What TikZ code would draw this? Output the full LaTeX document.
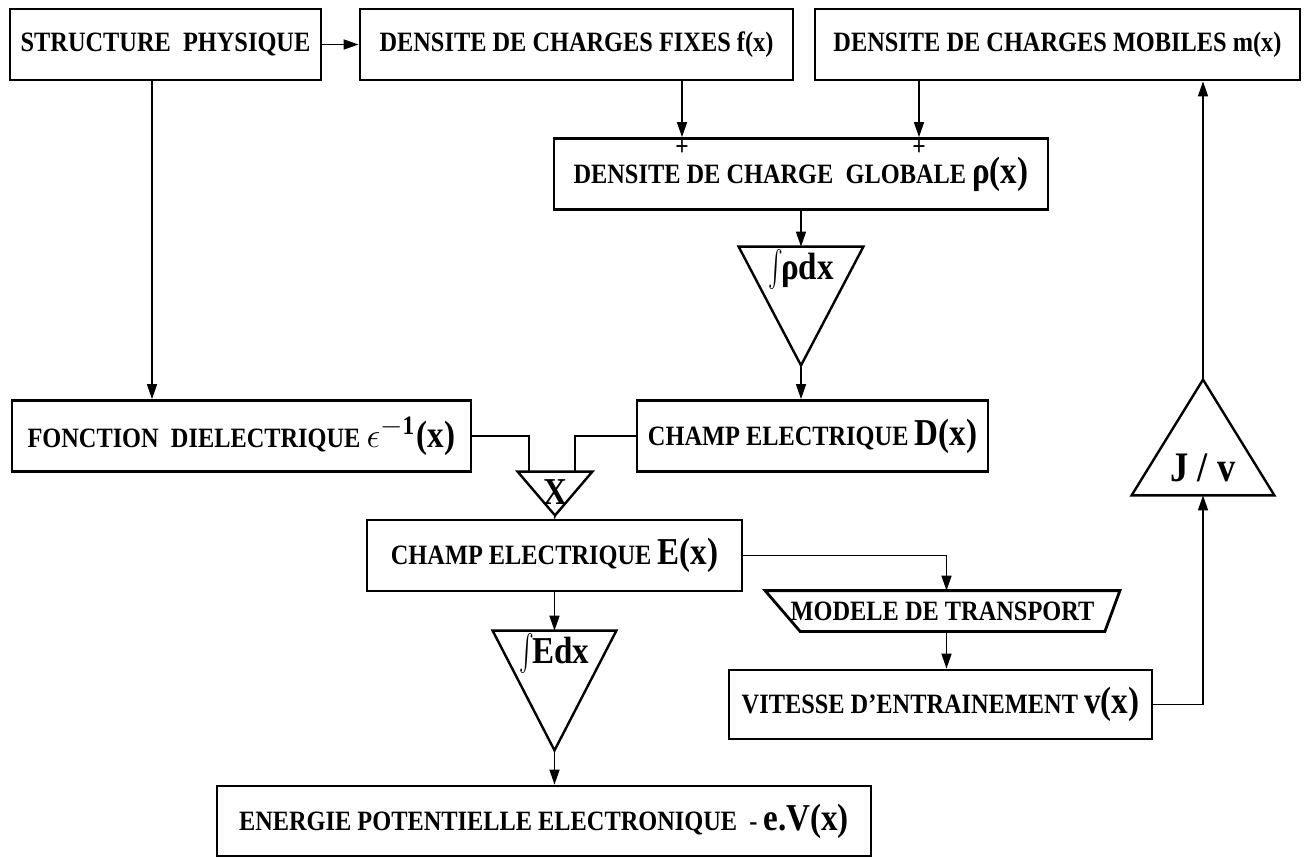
\documentclass[tikz,border=0pt]{standalone}
\usepackage{fontspec}
\setmainfont{Liberation Serif}[FakeStretch=0.87]
\usetikzlibrary{arrows.meta,shapes.geometric}

\newcommand{\grand}[1]{{\fontsize{19pt}{19pt}\selectfont #1}}
\newcommand{\integ}{\raisebox{-3pt}{\scalebox{1.1}[1.8]{$\int$}}\kern-1pt}

\tikzset{
	bloc/.style={draw,line width=1.4pt,inner sep=0pt,minimum height=35.5pt},
	lien/.style={line width=0.8pt},
	signe/.style={inner sep=0pt,font=\fontsize{13.5pt}{13.5pt}\selectfont\bfseries},
	tribas/.style={inner sep=0pt,append after command={\pgfextra{\draw[line width=1.2pt] (\tikzlastnode.north west) -- (\tikzlastnode.north east) -- (\tikzlastnode.south) -- cycle;}}},
	trihaut/.style={inner sep=0pt,append after command={\pgfextra{\draw[line width=1.2pt] (\tikzlastnode.south west) -- (\tikzlastnode.south east) -- (\tikzlastnode.north) -- cycle;}}},
	trapeze/.style={inner sep=0pt,minimum width=177pt,minimum height=20pt,append after command={\pgfextra{\draw[line width=1.4pt] (\tikzlastnode.north west) -- (\tikzlastnode.north east) -- ([xshift=-7.5pt]\tikzlastnode.south east) -- ([xshift=17.5pt]\tikzlastnode.south west) -- cycle;}}}
}

\begin{document}
\begin{tikzpicture}[x=0.5pt,y=-0.5pt,>={Triangle[length=7.5pt,width=5pt]},font=\fontsize{14pt}{16pt}\selectfont\bfseries]
			\useasboundingbox (0,0) rectangle (1307,859);
			
			\node[bloc,minimum width=155.5pt] (sp) at (165.5,44.5) {STRUCTURE\ \ PHYSIQUE};
			\node[bloc,minimum width=216.5pt] (fixes) at (576.5,44.5) {DENSITE DE CHARGES FIXES f(x)};
			\node[bloc,minimum width=242.5pt] (mobiles) at (1057.5,44.5) {DENSITE DE CHARGES MOBILES m(x)};
			
			\node[bloc,minimum width=247pt] (globale) at (801,174) {DENSITE DE CHARGE\ \ GLOBALE \grand{ρ(x)}};
			\node[signe] (plusf) at (682,147.5) {+};
			\node[signe] (plusm) at (919,147.5) {+};
			
			\node[tribas,minimum width=62pt,text height=16pt,text depth=43pt,font=\fontsize{19pt}{19pt}\selectfont\bfseries] (rho) at (801,306) {\integ ρdx};
			
			\node[bloc,minimum width=229.5pt] (eps) at (241.5,436) {FONCTION\ \ DIELECTRIQUE \grand{$\epsilon^{\mathbf{-1}}$(x)}};
			\node[bloc,minimum width=175.5pt] (champd) at (812.5,436) {CHAMP ELECTRIQUE \grand{D(x)}};
			
			\node[tribas,minimum width=37pt,text height=16pt,text depth=5.5pt,font=\fontsize{19pt}{19pt}\selectfont\bfseries] (mult) at (555,493.5) {X};
			
			\node[bloc,minimum width=187.5pt] (champe) at (554.5,555.5) {CHAMP ELECTRIQUE \grand{E(x)}};
			
			\node[tribas,minimum width=61.5pt,text height=16pt,text depth=43.5pt,font=\fontsize{19pt}{19pt}\selectfont\bfseries] (edx) at (554.5,690.5) {\integ Edx};
			\node[trapeze] (modele) at (942.5,611) {MODELE DE TRANSPORT};
			\node[bloc,minimum width=211.5pt,minimum height=34.5pt] (vitesse) at (940.5,704.5) {VITESSE D’ENTRAINEMENT \grand{v(x)}};
			
			\node[bloc,minimum width=327pt,minimum height=35pt] (energie) at (544,821) {ENERGIE POTENTIELLE ELECTRONIQUE\ \ - \grand{e.V(x)}};
			
			\node[trihaut,minimum width=71pt,text height=50.5pt,text depth=7pt,font=\fontsize{21pt}{21pt}\selectfont\bfseries] (jv) at (1203,437.5) {J / v};
			
			\draw[lien,->] (sp.east) -- (fixes.west);
			\draw[lien,->] ([xshift=-6.75pt]sp.south) -- ([xshift=-44.75pt]eps.north);
			\draw[lien,->] ([xshift=52.75pt]fixes.south) -- ([xshift=-59.5pt]globale.north);
			\draw[lien,->] ([xshift=-69.25pt]mobiles.south) -- ([xshift=59pt]globale.north);
			\draw[lien,->] (globale.south) -- (rho.north);
			\draw[lien,->] (rho.south) -- (rho.south |- champd.north);
			
			\draw[lien] (eps.east) -| ([xshift=-13pt]mult.north);
			\draw[lien] (champd.west) -| ([xshift=10pt]mult.north);
			\draw[lien] (mult.south) -- (champe.north);
			
			\draw[lien,->] (champe.south) -- (edx.north);
			\draw[lien,->] (edx.south) -- (edx.south |- energie.north);
			\draw[lien,->] (champe.east) -| ([xshift=2pt]modele.north);
			\draw[lien,->] ([xshift=2pt]modele.south) -- ([xshift=2pt]modele.south |- vitesse.north);
			\draw[lien,->] (vitesse.east) -| (jv.south);
			\draw[lien,->] (jv.north) -- (jv.north |- mobiles.south);
		\end{tikzpicture}
\end{document}
